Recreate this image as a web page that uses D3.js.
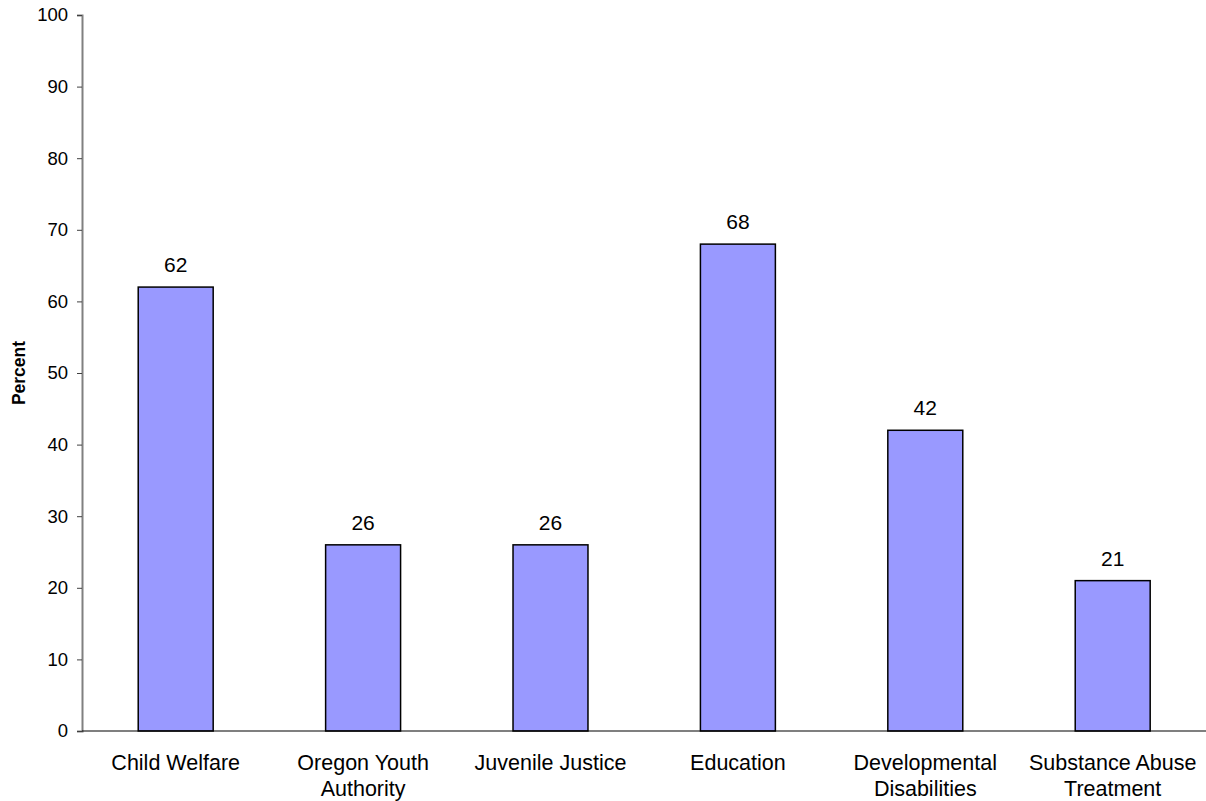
<!DOCTYPE html>
<html><head><meta charset="utf-8">
<script src="https://cdn.jsdelivr.net/npm/d3@7"></script>
<style>body{margin:0;background:#fff}svg text{font-family:"Liberation Sans",Arial,sans-serif}</style>
</head><body>
<svg id="c" width="1206" height="801"></svg>
<script>
const categories = [["Child Welfare"],["Oregon Youth","Authority"],["Juvenile Justice"],["Education"],["Developmental","Disabilities"],["Substance Abuse","Treatment"]];
const values = [62, 26, 26, 68, 42, 21];
const yTicks = [0,10,20,30,40,50,60,70,80,90,100];

(function(){
const svg = d3.select("#c");
const mLeft = 82, mRight = 1206.4, mTop = 15, mBottom = 731;
const x = d3.scaleBand().domain(d3.range(categories.length)).range([mLeft, mRight]).paddingInner(0.6).paddingOuter(0.3);
const y = d3.scaleLinear().domain([0,100]).range([mBottom, mTop]);

// y axis
const ya = svg.append("g").attr("transform",`translate(${mLeft},0)`)
  .call(d3.axisLeft(y).tickValues(yTicks).tickSize(5).tickPadding(9).tickFormat(d3.format("d")));
ya.select(".domain").attr("stroke","#808080").attr("stroke-width",2);
ya.selectAll(".tick line").attr("stroke","#404040");
ya.selectAll(".tick text").attr("font-size","18.5px").attr("fill","#000").attr("font-family","Liberation Sans, Arial, sans-serif");

// bars
svg.append("g").selectAll("rect").data(values).join("rect")
  .attr("x",(d,i)=>x(i)).attr("width",x.bandwidth())
  .attr("y",d=>y(d)).attr("height",d=>mBottom-y(d))
  .attr("fill","#9999FF").attr("stroke","#000").attr("stroke-width",1.5);

// x axis line
svg.append("line").attr("x1",mLeft).attr("x2",1206).attr("y1",mBottom).attr("y2",mBottom)
  .attr("stroke","#000").attr("stroke-width",1.2);

// value labels
svg.append("g").selectAll("text").data(values).join("text")
  .attr("x",(d,i)=>x(i)+x.bandwidth()/2).attr("y",d=>y(d)-15)
  .attr("text-anchor","middle").attr("font-size","21px").text(d=>d);

// category labels
const cl = svg.append("g").selectAll("text").data(categories).join("text")
  .attr("x",(d,i)=>x(i)+x.bandwidth()/2).attr("y",770)
  .attr("text-anchor","middle").attr("font-size","21.5px");
cl.each(function(d,i){
  const t=d3.select(this);
  d.forEach((s,j)=>t.append("tspan").attr("x",x(i)+x.bandwidth()/2).attr("dy",j?26:0).text(s));
});

// y title
svg.append("text").attr("transform",`translate(25,${(mTop+mBottom)/2}) rotate(-90)`)
  .attr("text-anchor","middle").attr("font-size","17.5px").attr("font-weight","bold").text("Percent");
})();
</script>
</body></html>
